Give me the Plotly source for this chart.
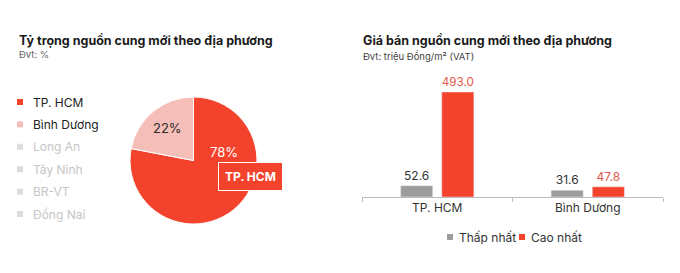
import plotly.graph_objects as go

# ---- data ----
pie_labels = ["TP. HCM", "Bình Dương", "Long An", "Tây Ninh", "BR-VT", "Đồng Nai"]
pie_values = [78, 22, 0, 0, 0, 0]
bar_categories = ["TP. HCM", "Bình Dương"]
low_values = [52.6, 31.6]
high_values = [493.0, 47.8]
series_names = ["Thấp nhất", "Cao nhất"]

RED = "#F4432C"
PINK = "#F6BEB8"
GRAY = "#9C9C9C"
FONT = "Inter"

W, H = 680, 273
def px(x):
    return x / W
def py(y):
    return 1 - y / H

fig = go.Figure()

def note(x, y, text, size, color, xanchor="left", **kw):
    fig.add_annotation(x=px(x), y=py(y), xref="paper", yref="paper",
                       xanchor=xanchor, yanchor="middle", text=text, showarrow=False,
                       font=dict(family=FONT, size=size, color=color), **kw)

# ---- pie ----
fig.add_trace(go.Pie(
    labels=pie_labels[:2], values=pie_values[:2], sort=False, direction="clockwise",
    rotation=0, marker=dict(colors=[RED, PINK], line=dict(color="white", width=1)),
    textinfo="none", hoverinfo="label+percent", showlegend=False,
    domain=dict(x=[px(130), px(257)], y=[py(224), py(97)]),
))

# slice value labels
note(224, 152, f"{pie_values[0]}%", 13, "white", xanchor="center")
note(167, 128, f"{pie_values[1]}%", 13, "#2a2a2a", xanchor="center")
# highlighted tooltip box
note(250, 176, f"<b>{pie_labels[0]}</b>", 12, "white", xanchor="center",
     bgcolor=RED, bordercolor="white", borderwidth=1, borderpad=6)

# left legend
leg_colors = [RED, PINK, "#DCDCDC", "#DCDCDC", "#DCDCDC", "#DCDCDC"]
leg_text_colors = ["#222222", "#222222", "#C6C6C6", "#C6C6C6", "#C6C6C6", "#C6C6C6"]
for i, lab in enumerate(pie_labels):
    yc = 102 + i * 22.4
    fig.add_shape(type="rect", xref="paper", yref="paper",
                  x0=px(17), x1=px(23), y0=py(yc + 3), y1=py(yc - 3),
                  fillcolor=leg_colors[i], line=dict(width=0))
    note(31, yc, lab, 12, leg_text_colors[i])

# ---- bars ----
bar_colors = [GRAY, RED]
label_colors = ["#333333", "#E4584B"]
for name, vals, col, lcol in zip(series_names, [low_values, high_values], bar_colors, label_colors):
    fig.add_trace(go.Bar(
        x=bar_categories, y=vals, name=name, marker_color=col,
        texttemplate="%{y:.1f}", textposition="outside",
        textfont=dict(family=FONT, size=12, color=lcol), cliponaxis=False,
        showlegend=False,
    ))

# bar legend (manual)
leg_x = [447, 519]
for name, col, lx in zip(series_names, bar_colors, leg_x):
    fig.add_shape(type="rect", xref="paper", yref="paper",
                  x0=px(lx), x1=px(lx + 6), y0=py(240), y1=py(234),
                  fillcolor=col, line=dict(width=0))
    note(lx + 10, 237, name, 12, "#333333")

# titles
note(17, 40, "<b>Tỷ trọng nguồn cung mới theo địa phương</b>", 12.5, "#1a1a1a")
note(17, 55, "Đvt: %", 9.5, "#666666")
note(361, 40, "<b>Giá bán nguồn cung mới theo địa phương</b>", 12.5, "#1a1a1a")
note(361, 56, "Đvt: triệu Đồng/m² (VAT)", 9.5, "#444444")

y_top = 70
y_base = 197
ymax = high_values[0] * (y_base - y_top) / 105

fig.update_layout(
    width=W, height=H, margin=dict(l=0, r=0, t=0, b=0),
    paper_bgcolor="white", plot_bgcolor="white",
    barmode="group", bargap=0.453, bargroupgap=0.22,
    font=dict(family=FONT),
    xaxis=dict(domain=[px(362), px(663)], showline=True, linecolor="#BDBDBD", linewidth=1,
               ticks="outside", tickson="boundaries", ticklen=4, tickcolor="#BDBDBD",
               tickfont=dict(family=FONT, size=12, color="#333333"), showgrid=False,
               fixedrange=True),
    yaxis=dict(domain=[py(y_base), py(y_top)], range=[0, ymax], visible=False,
               showgrid=False, fixedrange=True),
    showlegend=False,
)

fig.write_html("out.html")
